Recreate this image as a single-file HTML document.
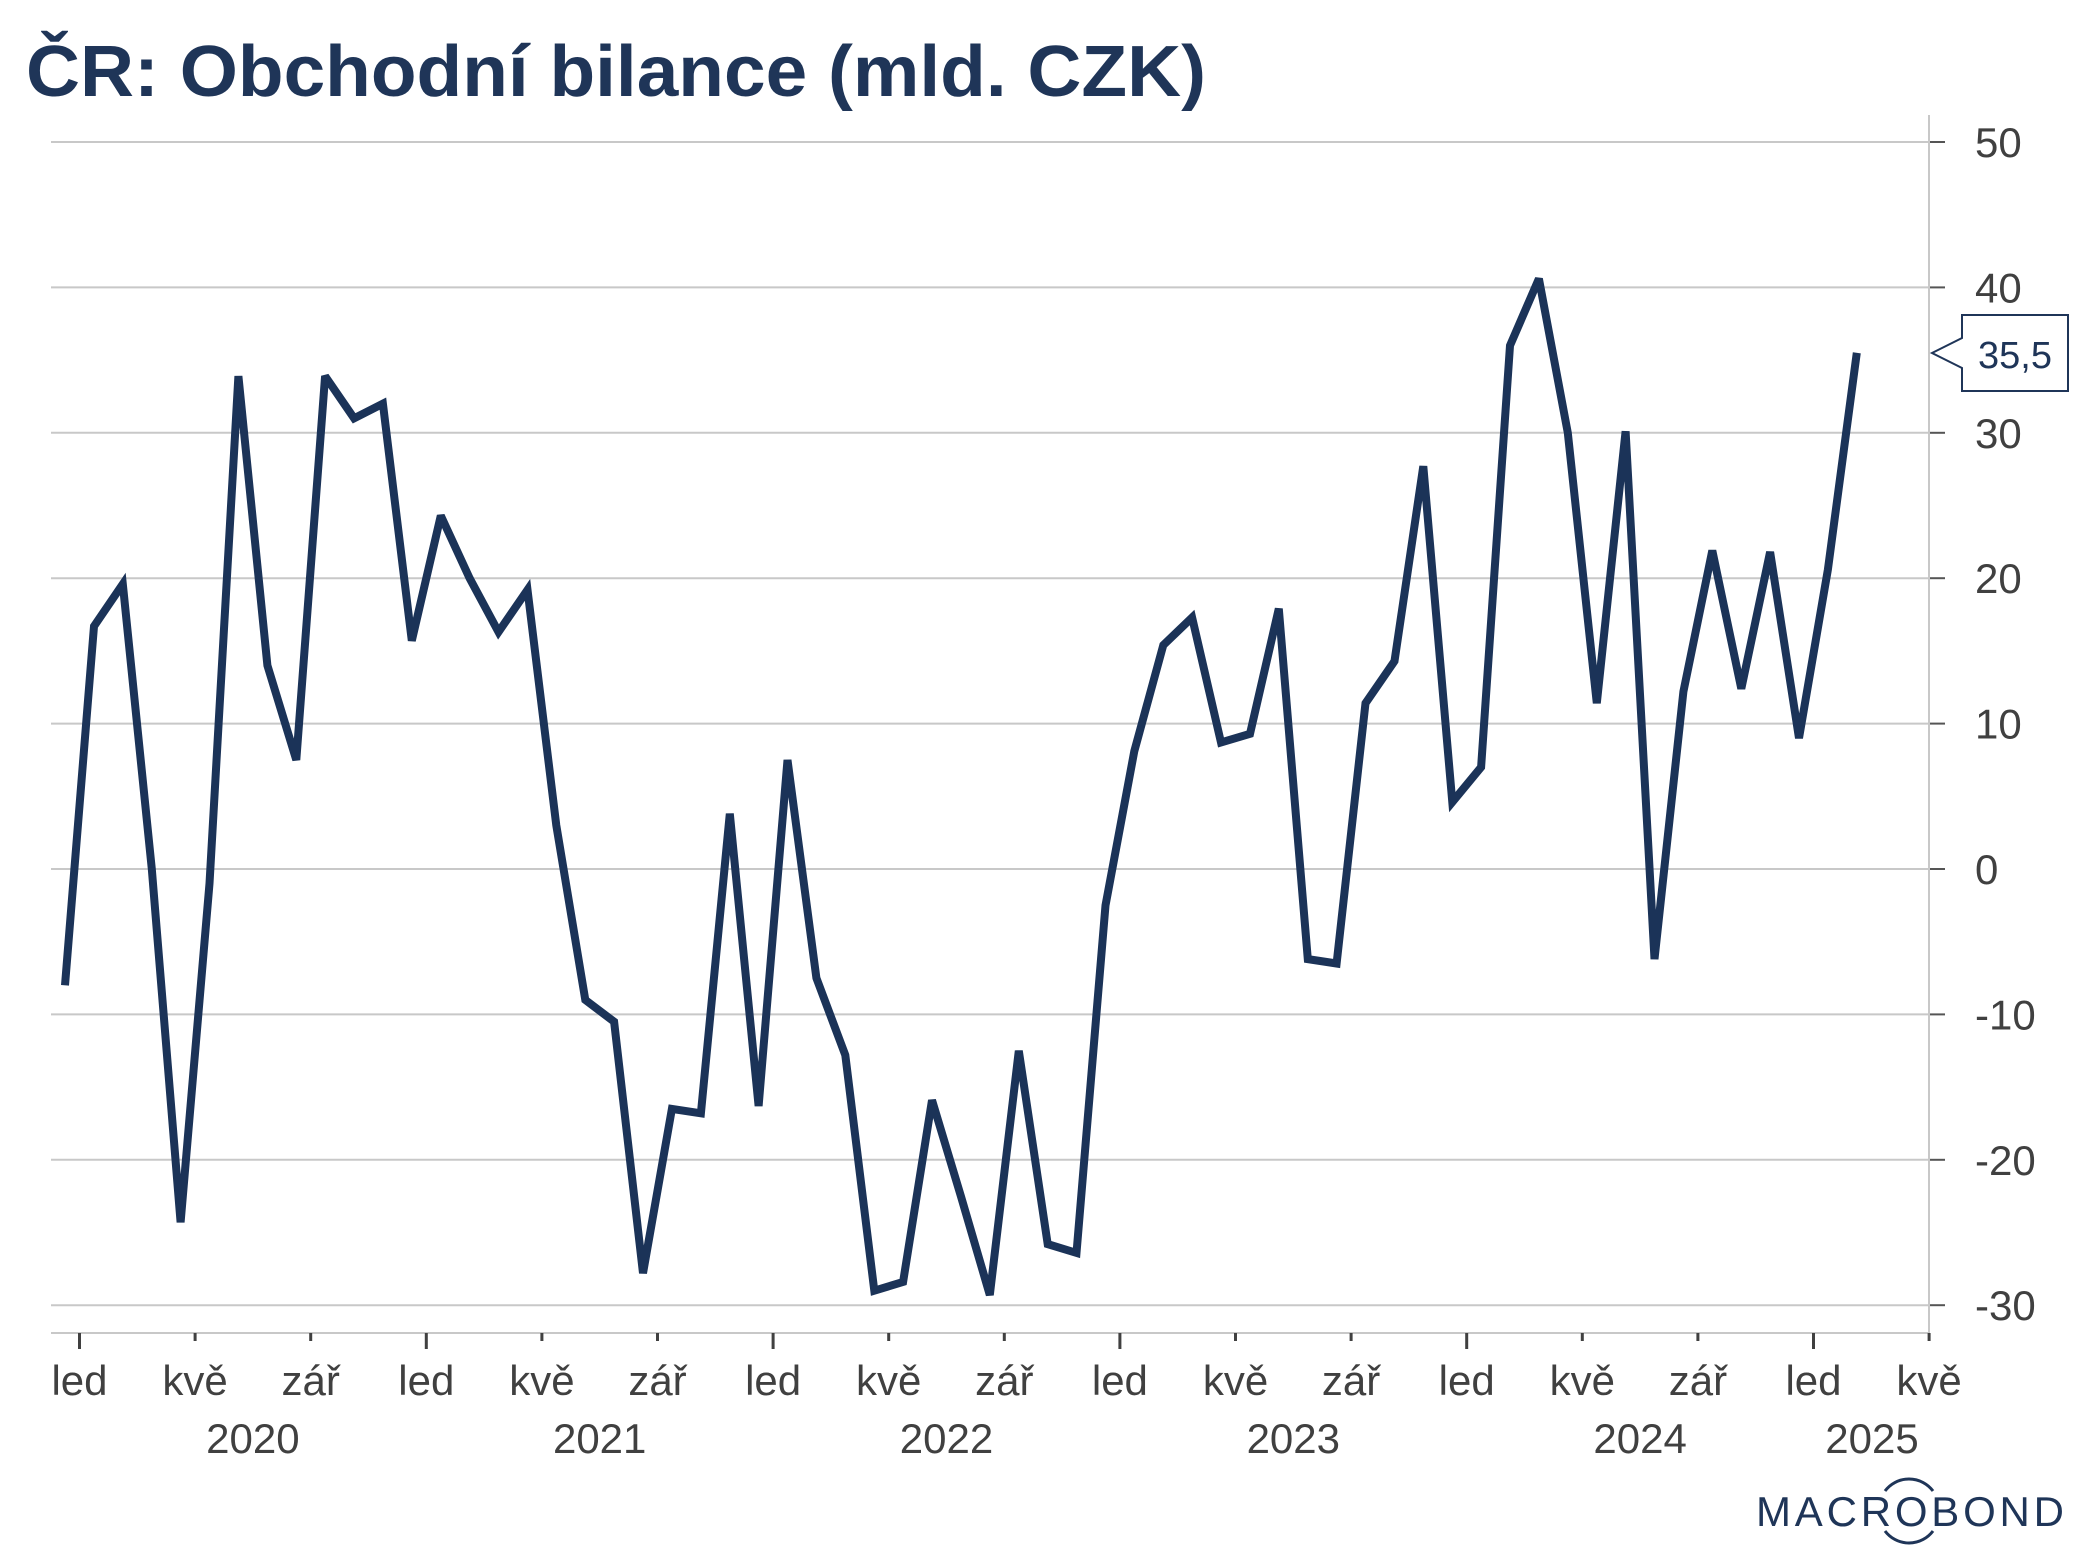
<!DOCTYPE html>
<html><head><meta charset="utf-8"><style>
html,body{margin:0;padding:0;background:#fff;}
svg{display:block;font-family:"Liberation Sans",sans-serif;}
</style></head><body>
<svg id="chart" width="2093" height="1568" viewBox="0 0 2093 1568" xmlns="http://www.w3.org/2000/svg">
<text x="26" y="96" font-size="72" font-weight="bold" fill="#1f3558" textLength="1180" lengthAdjust="spacingAndGlyphs">ČR: Obchodní bilance (mld. CZK)</text>
<g id="grid"></g><g id="xaxis"></g><g id="yaxis"></g><g id="series"></g>
<g>
<path d="M1932 353 L1962 338 L1962 315 L2068 315 L2068 391 L1962 391 L1962 368 Z" fill="#fff" stroke="#1f3558" stroke-width="2"/>
<text x="2015" y="368" font-size="38" fill="#1f3558" text-anchor="middle" id="callout-text">35,5</text>
</g>
<g>
<text x="1756" y="1526" font-size="42" fill="#1f3558" letter-spacing="4" textLength="312" lengthAdjust="spacing">MACROBOND</text>
<path d="M1885 1491 A30 30 0 0 1 1933 1491" fill="none" stroke="#1f3558" stroke-width="3"/>
<path d="M1885 1531 A30 30 0 0 0 1933 1531" fill="none" stroke="#1f3558" stroke-width="3"/>
</g>
</svg>
<script>
const values = [-8,16.7,19.6,0,-24.3,-1,33.9,14,7.5,33.9,31,32,15.7,24.3,20,16.3,19.2,3,-9,-10.5,-27.8,-16.5,-16.8,3.8,-16.3,7.5,-7.5,-12.8,-29,-28.4,-15.9,-22.5,-29.3,-12.5,-25.8,-26.4,-2.5,8.1,15.4,17.3,8.7,9.3,17.9,-6.2,-6.5,11.4,14.3,27.7,4.6,7,36,40.6,30,11.4,30.1,-6.2,12.2,21.9,12.4,21.8,9,20.6,35.5];
const firstMonth = -1;
const yTicks = [50,40,30,20,10,0,-10,-20,-30];
const monthLabels = ["led","kvě","zář"];
const years = ["2020","2021","2022","2023","2024","2025"];
const NS="http://www.w3.org/2000/svg";
const X0=79.5, MW=28.9, Y0=869, YU=14.54, L=51, R=1929, AX=1333;
const xm = m => X0 + m*MW;
const xp = i => xm(firstMonth + i + 0.5);
const y = v => Y0 - v*YU;
function mk(t,a,p){const e=document.createElementNS(NS,t);for(const k in a)e.setAttribute(k,a[k]);p.appendChild(e);return e;}
const grid=document.getElementById('grid'), ya=document.getElementById('yaxis'), xa=document.getElementById('xaxis'), se=document.getElementById('series');
yTicks.forEach(v=>{
  const g=mk('line',{x1:L,x2:R,y1:y(v),y2:y(v),stroke:'#c8c8c8','stroke-width':2},grid);
  
  
  mk('line',{x1:R,x2:R+16,y1:y(v),y2:y(v),stroke:'#555','stroke-width':2},ya);
  const t=mk('text',{x:1975,y:y(v)+15,'font-size':42,fill:'#404040'},ya);
  t.textContent=v;
  
  
});
mk('line',{x1:R,x2:R,y1:115,y2:AX,stroke:'#c8c8c8','stroke-width':2},ya);
mk('line',{x1:L,x2:R,y1:AX,y2:AX,stroke:'#c8c8c8','stroke-width':2},xa);
for(let m=0;m<=64;m+=4){
  const major=(m%12===0);
  mk('line',{x1:xm(m),x2:xm(m),y1:AX,y2:AX+(major?16:8),stroke:'#404040','stroke-width':3},xa);
  const t=mk('text',{x:xm(m),y:1395,'font-size':42,fill:'#404040','text-anchor':'middle'},xa);
  t.textContent=monthLabels[(m%12)/4];
  
  
}
years.forEach((yr,i)=>{
  const cx = i<5 ? xm(i*12+6) : 1872;
  const t=mk('text',{x:cx,y:1453,'font-size':42,fill:'#404040','text-anchor':'middle'},xa);
  t.textContent=yr;
  
  
});
const d=values.map((v,i)=>(i?'L':'M')+xp(i).toFixed(1)+' '+y(v).toFixed(1)).join(' ');
const line=mk('path',{d:d,fill:'none',stroke:'#1b3358','stroke-width':8,'stroke-linejoin':'miter','stroke-miterlimit':3},se);


document.getElementById('callout-text').textContent=String(values[values.length-1]).replace('.',',');
</script>
</body></html>
